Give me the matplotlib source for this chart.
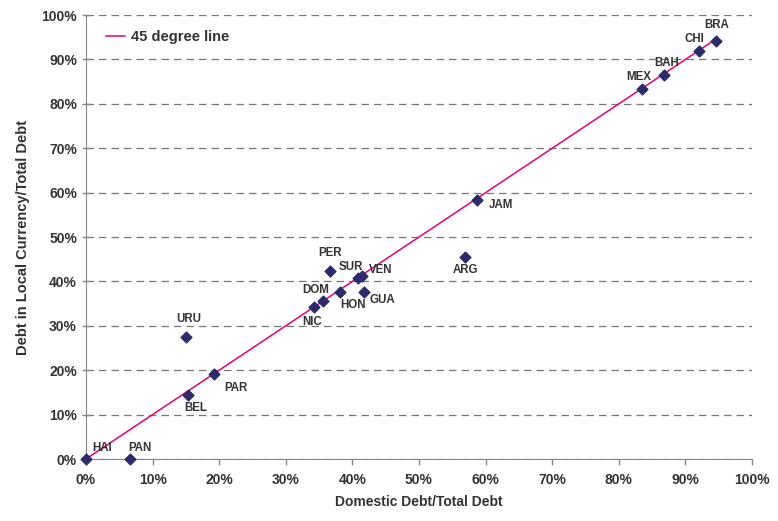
import matplotlib.pyplot as plt
import numpy as np

plt.rcParams['font.family'] = ['Liberation Sans', 'DejaVu Sans']

countries = ["HAI", "PAN", "URU", "BEL", "PAR", "NIC", "DOM", "HON", "PER", "SUR",
             "VEN", "GUA", "ARG", "JAM", "MEX", "BAH", "CHI", "BRA"]
domestic = [0.0, 6.6, 15.0, 15.3, 19.2, 34.2, 35.6, 38.1, 36.6, 40.8,
            41.4, 41.7, 56.9, 58.7, 83.5, 86.8, 92.0, 94.6]
local_cur = [0.0, 0.0, 27.5, 14.4, 19.1, 34.2, 35.6, 37.6, 42.3, 40.8,
             41.2, 37.6, 45.5, 58.3, 83.3, 86.5, 91.9, 94.1]

# label offsets in pixels (dx, dy) from the point, label anchored at left/bottom
offsets = {
    "HAI": (6, 5), "PAN": (-2, 5), "URU": (-10, 12), "BEL": (-4, -19),
    "PAR": (10, -20), "NIC": (-11, -21), "DOM": (-21, 5), "HON": (1, -19),
    "PER": (-11, 12), "SUR": (-19, 5), "VEN": (7, 0), "GUA": (6, -14),
    "ARG": (-12, -19), "JAM": (12, -11), "MEX": (-16, 6), "BAH": (-10, 6),
    "CHI": (-14, 6), "BRA": (-12, 10),
}

txt = "#333333"
fig = plt.figure(figsize=(7.78, 5.21), dpi=100)
ax = fig.add_axes([0.1105, 0.119, 0.856, 0.852])

line_end = max(domestic)
ax.plot([0, line_end], [0, line_end], color="#E6007E", lw=1.1, label="45 degree line", zorder=2)
ax.scatter(domestic, local_cur, marker="D", s=30, color="#2B2B6B", zorder=3, clip_on=False)

for c, x, y in zip(countries, domestic, local_cur):
    dx, dy = offsets[c]
    ax.annotate(c, (x, y), xytext=(dx, dy), textcoords="offset pixels",
                fontsize=8.3, fontweight="bold", color=txt, ha="left", va="bottom")

ax.set_xlim(0, 100)
ax.set_ylim(0, 100)
ticks = np.arange(0, 101, 10)
ax.set_xticks(ticks)
ax.set_yticks(ticks)
ax.set_xticklabels([f"{t}%" for t in ticks], fontsize=10, fontweight="bold", color=txt)
ax.set_yticklabels([f"{t}%" for t in ticks], fontsize=10, fontweight="bold", color=txt)
ax.tick_params(axis="x", direction="out", length=4, color="#888888", width=1, pad=6)
ax.tick_params(axis="y", direction="inout", length=6, color="#888888", width=1)

ax.grid(axis="y", linestyle=(0, (6, 4)), color="#777777", lw=0.9)
ax.set_axisbelow(True)
for s in ["top", "right"]:
    ax.spines[s].set_visible(False)
for s in ["left", "bottom"]:
    ax.spines[s].set_color("#888888")

ax.set_xlabel("Domestic Debt/Total Debt", fontsize=10, fontweight="bold", color=txt, labelpad=6)
ax.set_ylabel("Debt in Local Currency/Total Debt", fontsize=10.5, fontweight="bold", color=txt, labelpad=8)

leg = ax.legend(loc="upper left", frameon=False, prop={"weight": "bold", "size": 10.5},
                handlelength=1.3, handletextpad=0.4, bbox_to_anchor=(0.01, 0.995))
for t in leg.get_texts():
    t.set_color(txt)

fig.savefig("out.png", dpi=100)
